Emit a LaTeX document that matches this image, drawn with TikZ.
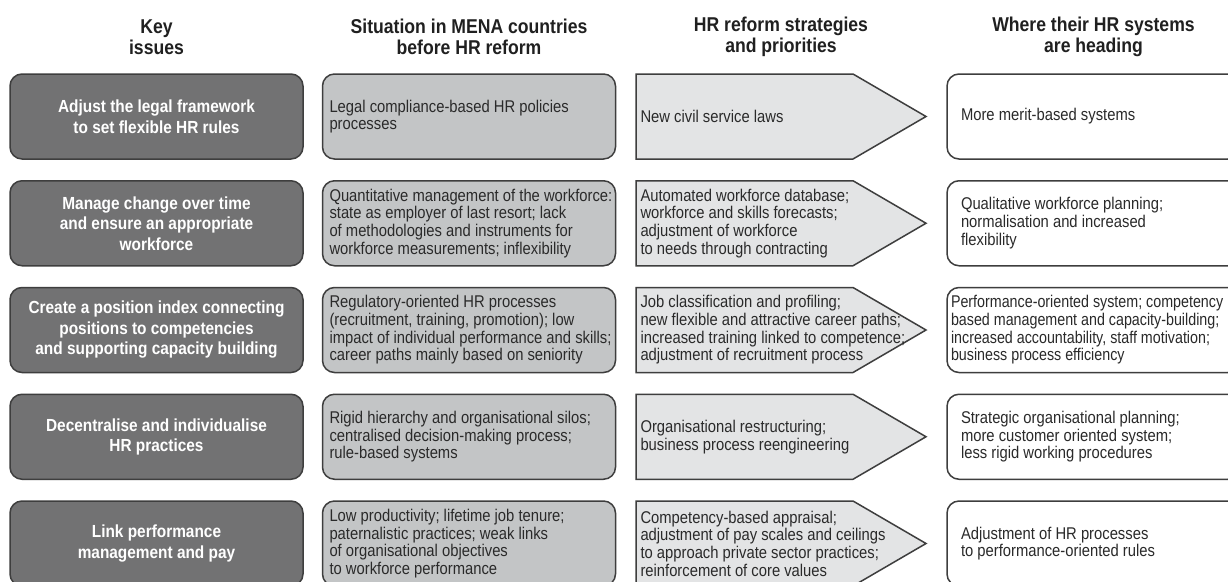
\documentclass[tikz,border=0pt]{standalone}
\usepackage{fontspec}
\setmainfont{Liberation Sans}[FakeStretch=0.87]
\newfontfamily\headfont{Liberation Sans}[FakeStretch=0.88]
\newfontfamily\tightfont{Liberation Sans}[FakeStretch=0.84]
\usetikzlibrary{backgrounds}
\definecolor{keyfill}{HTML}{727273}
\definecolor{situationfill}{HTML}{C3C5C6}
\definecolor{strategyfill}{HTML}{E3E4E5}
\definecolor{boxedge}{HTML}{3E3E3E}
\definecolor{headtext}{HTML}{202020}
\definecolor{bodytext}{HTML}{2A2A2A}

\begin{document}
\begin{tikzpicture}[x=1pt,y=-1pt,
  every node/.style={inner sep=0pt, outer sep=0pt},
  heading/.style={align=center, text=headtext,
    font=\headfont\bfseries\fontsize{20}{21}\selectfont},
  cell/.style={minimum width=293pt, minimum height=85pt,
    line width=1.5pt, draw=boxedge, rounded corners=12pt},
  keybox/.style={cell, fill=keyfill, text=white, align=center,
    font=\headfont\bfseries\fontsize{17.5}{20.5}\selectfont},
  sitbox/.style={cell, fill=situationfill},
  stratbox/.style={minimum width=290pt, minimum height=85pt},
  stratshape/.style={fill=strategyfill, draw=boxedge, line width=1.5pt,
    line join=miter},
  goalbox/.style={cell, fill=white, anchor=west},
  celltext/.style={anchor=west, align=left, text=bodytext,
    font=\fontsize{17}{17.7}\selectfont},
]
\useasboundingbox (0,0) rectangle (1228,581);
\clip (0,0) rectangle (1228,581);

% column headings
\node[heading] (h1) at (156.5,37) {Key\\issues};
\node[heading] (h2) at (469,37) {Situation in MENA countries\\before HR reform};
\node[heading] (h3) at (781,37) {HR reform strategies\\and priorities};
\node[heading] (h4) at (1093.5,37) {Where their HR systems\\are heading};

% panels of the five rows
\foreach \r/\y in {1/116.5, 2/223.25, 3/330, 4/436.75, 5/543.5}{
  \node[sitbox] (s\r) at (469,\y) {};
  \node[stratbox] (p\r) at (781,\y) {};
  \node[goalbox] (g\r) at (947,\y) {};
}

% key issues
\node[keybox] (k1) at (156.5,116.5) {Adjust the legal framework\\to set flexible HR rules};
\node[keybox] (k2) at (156.5,223.25) {Manage change over time\\and ensure an appropriate\\workforce};
\node[keybox] (k3) at (156.5,330) {Create a position index connecting\\positions to competencies\\and supporting capacity building};
\node[keybox] (k4) at (156.5,436.75) {Decentralise and individualise\\HR practices};
\node[keybox] (k5) at (156.5,543.5) {Link performance\\management and pay};

% situation before reform
\node[celltext] (s1t) at ([xshift=7pt]s1.west) {Legal compliance-based HR policies\\processes};
\node[celltext] (s2t) at ([xshift=7pt]s2.west) {Quantitative management of the workforce:\\state as employer of last resort; lack\\of methodologies and instruments for\\workforce measurements; inflexibility};
\node[celltext] (s3t) at ([xshift=7pt]s3.west) {Regulatory-oriented HR processes\\(recruitment, training, promotion); low\\impact of individual performance and skills;\\career paths mainly based on seniority};
\node[celltext] (s4t) at ([xshift=7pt]s4.west) {Rigid hierarchy and organisational silos;\\centralised decision-making process;\\rule-based systems};
\node[celltext] (s5t) at ([xshift=7pt]s5.west) {Low productivity; lifetime job tenure;\\paternalistic practices; weak links\\of organisational objectives\\to workforce performance};

% reform strategies
\node[celltext] (p1t) at ([xshift=4.5pt]p1.west) {New civil service laws};
\node[celltext] (p2t) at ([xshift=4.5pt]p2.west) {Automated workforce database;\\workforce and skills forecasts;\\adjustment of workforce\\to needs through contracting};
\node[celltext] (p3t) at ([xshift=4.5pt]p3.west) {Job classification and profiling;\\new flexible and attractive career paths;\\increased training linked to competence;\\adjustment of recruitment process};
\node[celltext] (p4t) at ([xshift=4.5pt]p4.west) {Organisational restructuring;\\business process reengineering};
\node[celltext] (p5t) at ([xshift=4.5pt]p5.west) {Competency-based appraisal;\\adjustment of pay scales and ceilings\\to approach private sector practices;\\reinforcement of core values};

% where the systems are heading
\node[celltext] (g1t) at ([xshift=14pt]g1.west) {More merit-based systems};
\node[celltext] (g2t) at ([xshift=14pt]g2.west) {Qualitative workforce planning;\\normalisation and increased\\flexibility};
\node[celltext, font=\tightfont\fontsize{17}{17.7}\selectfont] (g3t) at ([xshift=4pt]g3.west) {Performance-oriented system; competency\\based management and capacity-building;\\increased accountability, staff motivation;\\business process efficiency};
\node[celltext] (g4t) at ([xshift=14pt]g4.west) {Strategic organisational planning;\\more customer oriented system;\\less rigid working procedures};
\node[celltext] (g5t) at ([xshift=14pt]g5.west) {Adjustment of HR processes\\to performance-oriented rules};

% arrow-shaped panels behind the strategy texts
\begin{scope}[on background layer]
  \fill[white] (0,0) rectangle (1228,581);
  \foreach \p in {p1,p2,p3,p4,p5}{
    \path[stratshape] (\p.north west) -- ([xshift=-73pt]\p.north east)
      -- (\p.east) -- ([xshift=-73pt]\p.south east) -- (\p.south west) -- cycle;
  }
\end{scope}
\end{tikzpicture}
\end{document}
